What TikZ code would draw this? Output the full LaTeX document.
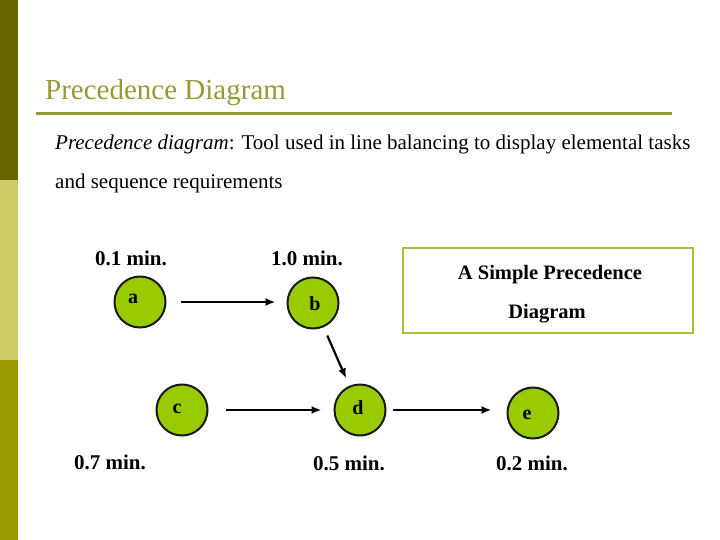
\documentclass[tikz,border=0pt]{standalone}
\usepackage{fontspec}
\setmainfont{Liberation Serif}
\usetikzlibrary{arrows.meta}
\definecolor{barA}{HTML}{666600}
\definecolor{barB}{HTML}{CCCC66}
\definecolor{barC}{HTML}{999900}
\definecolor{olive}{HTML}{999933}
\definecolor{nodegreen}{HTML}{99CC00}
\definecolor{boxgreen}{HTML}{A3C43A}
\begin{document}
\begin{tikzpicture}[x=1pt,y=-1pt,
  task/.style={circle,draw=black!90,line width=2pt,fill=nodegreen,minimum size=51pt,inner sep=0pt},
  letter/.style={font=\bfseries\fontsize{20}{22}\selectfont,inner sep=0pt},
  timelbl/.style={font=\bfseries\fontsize{21}{24}\selectfont,inner sep=0pt},
  boxtxt/.style={font=\bfseries\fontsize{20.5}{24}\selectfont,inner sep=0pt,anchor=base},
  flow/.style={-{Latex[length=10pt,width=8pt]},line width=2.2pt},
  body/.style={font=\fontsize{21}{24}\selectfont,inner sep=0pt,anchor=base west}]
\useasboundingbox (0,0) rectangle (720,540);
\fill[white] (0,0) rectangle (720,540);
% side bar
\fill[barA] (0,0) rectangle (18,180);
\fill[barB] (0,180) rectangle (18,360);
\fill[barC] (0,360) rectangle (18,540);
% title
\node[font=\fontsize{29}{32}\selectfont,text=olive,inner sep=0pt,anchor=base west] (title) at (45,100) {Precedence Diagram};
\draw[olive,line width=3pt] (36,114) -- (672,114);
\node[body] (line1) at (55,150) {\textit{Precedence diagram}: Tool used in line balancing to display elemental tasks};
\node[body] (line2) at (55,189) {and sequence requirements};
% tasks
\node[task] (a) at (140,302) {};
\node[task] (b) at (313,303) {};
\node[task] (c) at (182,410) {};
\node[task] (d) at (360,410) {};
\node[task] (e) at (533,413) {};
\node[letter] (la) at (133,299) {a};
\node[letter] (lb) at (315,304) {b};
\node[letter] (lc) at (177,409) {c};
\node[letter] (ld) at (358,408) {d};
\node[letter] (le) at (527,415) {e};
% times
\node[timelbl] (ta) at (131,258) {0.1 min.};
\node[timelbl] (tb) at (307,258) {1.0 min.};
\node[timelbl] (tc) at (110,462) {0.7 min.};
\node[timelbl] (td) at (349,463) {0.5 min.};
\node[timelbl] (te) at (532,463) {0.2 min.};
% arrows
\draw[flow] (a.east) ++(14,0) coordinate (a1) -- ([xshift=-11pt]b.west |- a1);
\draw[flow] ([xshift=17pt]c.east) -- ([xshift=-12pt]d.west);
\draw[flow] ([xshift=6pt]d.east) -- ([xshift=-15pt]e.west |- d.east);
\draw[flow,shorten <=9pt,shorten >=8pt] (b) -- (d);
% box
\node[draw=boxgreen,line width=1.8pt,minimum width=290pt,minimum height=85pt,inner sep=0pt] (box) at (548,290.5) {};
\node[boxtxt] (bt1) at (550,279) {A Simple Precedence};
\node[boxtxt] (bt2) at (547,318) {Diagram};
\end{tikzpicture}
\end{document}
